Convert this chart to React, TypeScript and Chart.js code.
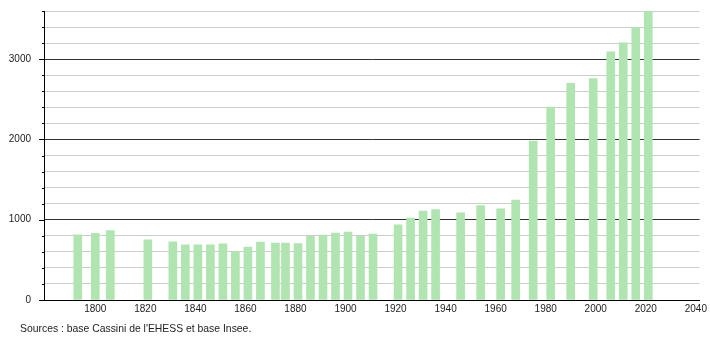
import React, { useEffect, useRef } from "react";
import { Chart, registerables } from "chart.js";

Chart.register(...registerables);

const years = [
  1793, 1800, 1806, 1821, 1831, 1836, 1841, 1846, 1851, 1856, 1861, 1866, 1872, 1876,
  1881, 1886, 1891, 1896, 1901, 1906, 1911, 1921, 1926, 1931, 1936, 1946, 1954, 1962,
  1968, 1975, 1982, 1990, 1999, 2006, 2011, 2016, 2021,
];
const population = [
  812, 829, 866, 750, 725, 687, 687, 687, 700, 604, 658, 721, 708, 708,
  704, 792, 808, 833, 846, 792, 821, 937, 1021, 1108, 1125, 1087, 1175, 1137,
  1246, 1979, 2404, 2700, 2758, 3092, 3204, 3392, 3596,
];
const xTicks = [1800, 1820, 1840, 1860, 1880, 1900, 1920, 1940, 1960, 1980, 2000, 2020, 2040];
const sourceText = "Sources : base Cassini de l'EHESS et base Insee.";

const FONT = "'Liberation Sans', Arial, sans-serif";

const minorTicks = {
  id: "minorTicks",
  afterDraw(chart: any) {
    const y = chart.scales.y;
    const ctx = chart.ctx;
    const left = chart.chartArea.left;
    ctx.save();
    ctx.strokeStyle = "#000";
    ctx.lineWidth = 1;
    y.ticks.forEach((t: any) => {
      const py = Math.round(y.getPixelForValue(t.value)) + 0.5;
      const len = t.value % 1000 === 0 ? 5 : 2;
      ctx.beginPath();
      ctx.moveTo(left - len, py);
      ctx.lineTo(left, py);
      ctx.stroke();
    });
    ctx.restore();
  },
};

export default function App() {
  const ref = useRef<HTMLCanvasElement>(null);
  useEffect(() => {
    if (!ref.current) return;
    const chart = new Chart(ref.current, {
      type: "bar",
      data: {
        datasets: [
          {
            data: years.map((y, i) => ({ x: y, y: population[i] })),
            backgroundColor: "rgb(176,228,176)",
            borderWidth: 0,
            barThickness: 8,
          },
        ],
      },
      options: {
        animation: false,
        responsive: false,
        maintainAspectRatio: false,
        layout: { padding: { top: 11, right: 10, bottom: 0, left: 0 } },
        plugins: {
          legend: { display: false },
          tooltip: { enabled: false },
        },
        scales: {
          x: {
            type: "linear",
            min: 1779.5,
            max: 2041.5,
            offset: false,
            grid: { display: false, drawTicks: false },
            border: { display: true, color: "#000", width: 1 },
            afterBuildTicks: (scale: any) => {
              scale.ticks = xTicks.map((v) => ({ value: v }));
            },
            afterFit: (scale: any) => {
              scale.height = 40;
            },
            ticks: {
              autoSkip: false,
              maxRotation: 0,
              color: "#222",
              font: { family: FONT, size: 10 },
              padding: 3,
              callback: (v: any) => String(v),
            },
          },
          y: {
            min: 0,
            max: 3600,
            grid: {
              color: (c: any) => (c.tick && c.tick.value % 1000 === 0 ? "#333" : "#cccccc"),
              drawTicks: true,
              tickLength: 9,
              tickColor: "rgba(0,0,0,0)",
              lineWidth: 1,
            },
            border: { display: true, color: "#000", width: 1 },
            afterFit: (scale: any) => {
              scale.width = 44;
            },
            ticks: {
              stepSize: 200,
              autoSkip: false,
              color: "#222",
              padding: 4,
              font: { family: FONT, size: 10 },
              callback: (v: any) => (Number(v) % 1000 === 0 ? String(v) : ""),
            },
          },
        },
      },
      plugins: [minorTicks],
    });
    return () => chart.destroy();
  }, []);
  return (
    <div style={{ position: "fixed", left: 0, top: 0, width: 710, height: 340, background: "#fff" }}>
      <canvas ref={ref} width={710} height={340} style={{ display: "block" }} />
      <div
        style={{
          position: "absolute",
          left: 20,
          top: 323,
          fontFamily: FONT,
          fontSize: 10.4,
          color: "#222",
          whiteSpace: "nowrap",
        }}
      >
        {sourceText}
      </div>
    </div>
  );
}
